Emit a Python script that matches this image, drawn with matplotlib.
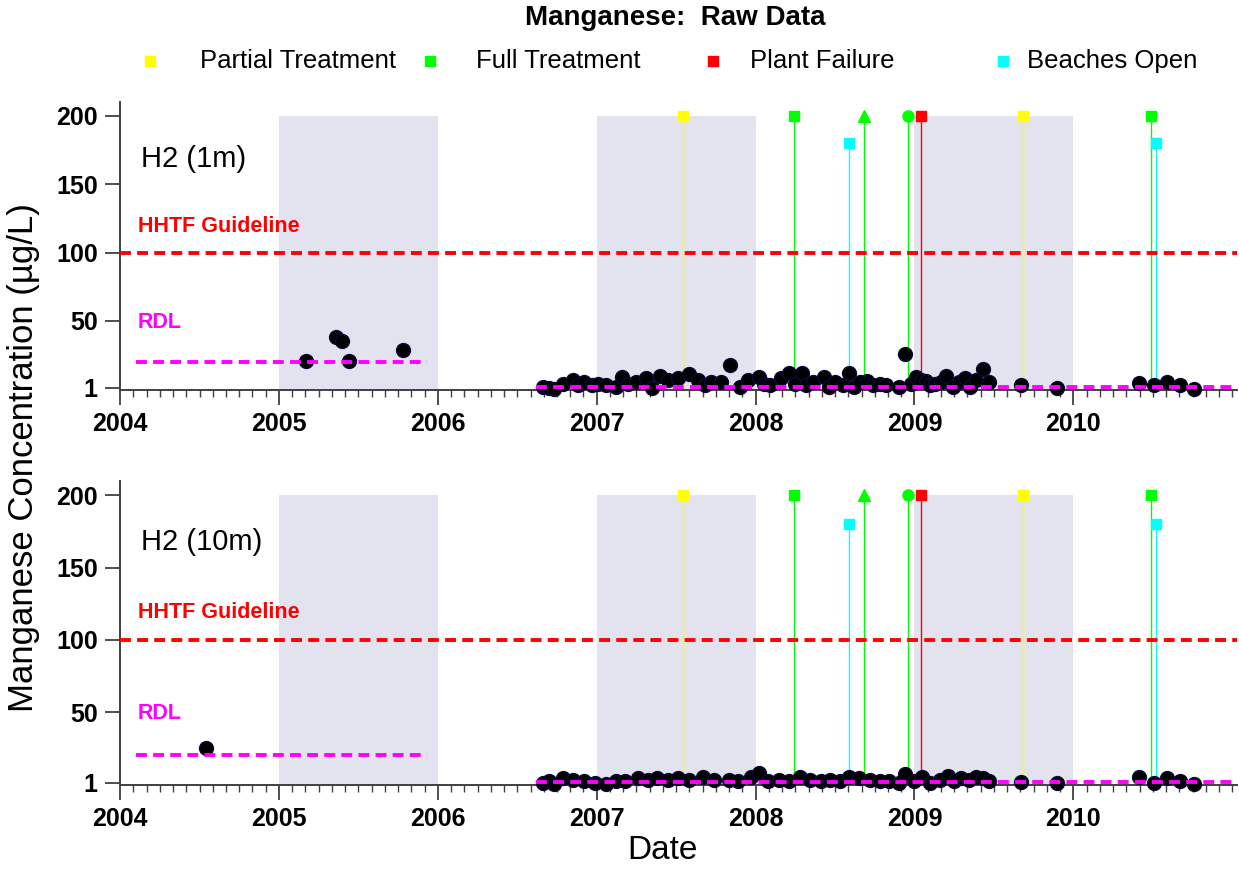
import matplotlib.pyplot as plt
from matplotlib.lines import Line2D
from matplotlib.ticker import MultipleLocator

plt.rcParams['font.family'] = ['Liberation Sans', 'DejaVu Sans']

# sample dates (decimal years) and Mn concentrations, ug/L
dates_1m = [2005.17, 2005.36, 2005.40, 2005.44, 2005.78,
            2006.66, 2006.70, 2006.73, 2006.79, 2006.85, 2006.88, 2006.92, 2006.97,
            2007.01, 2007.06, 2007.12, 2007.16, 2007.20, 2007.25, 2007.31, 2007.35,
            2007.40, 2007.45, 2007.51, 2007.58, 2007.64, 2007.68, 2007.72, 2007.78,
            2007.84, 2007.90, 2007.95, 2008.02, 2008.05, 2008.09, 2008.16, 2008.21,
            2008.25, 2008.29, 2008.32, 2008.36, 2008.43, 2008.46, 2008.50, 2008.55,
            2008.59, 2008.62, 2008.66, 2008.70, 2008.74, 2008.78, 2008.82, 2008.90,
            2008.94, 2008.98, 2009.01, 2009.04, 2009.07, 2009.10, 2009.13, 2009.17,
            2009.20, 2009.24, 2009.28, 2009.32, 2009.35, 2009.39, 2009.43, 2009.47,
            2009.67, 2009.90, 2010.41, 2010.51, 2010.59, 2010.67, 2010.76]
conc_1m = [21, 38, 35, 21, 29,
           2, 1, 0, 4, 7, 3, 5, 3,
           4, 3, 2, 9, 4, 5, 8, 1,
           10, 7, 8, 11, 7, 3, 5, 5,
           18, 2, 7, 9, 4, 3, 8, 12,
           4, 12, 3, 5, 9, 2, 5, 3,
           12, 2, 5, 6, 3, 4, 3, 2,
           26, 4, 9, 7, 6, 3, 4, 5,
           10, 2, 5, 8, 2, 7, 15, 5,
           3, 1, 4.5, 3, 5.5, 3, 0.5]

dates_10m = [2004.54,
             2006.66, 2006.70, 2006.73, 2006.79, 2006.85, 2006.92, 2006.99, 2007.06,
             2007.12, 2007.18, 2007.26, 2007.32, 2007.38, 2007.45, 2007.51, 2007.58,
             2007.67, 2007.74, 2007.83, 2007.89, 2007.97, 2008.02, 2008.08, 2008.15,
             2008.21, 2008.28, 2008.34, 2008.41, 2008.47, 2008.53, 2008.59, 2008.65,
             2008.72, 2008.78, 2008.84, 2008.90, 2008.94, 2009.00, 2009.05, 2009.10,
             2009.16, 2009.21, 2009.25, 2009.29, 2009.34, 2009.39, 2009.43, 2009.47,
             2009.67, 2009.90, 2010.41, 2010.51, 2010.59, 2010.67, 2010.76]
conc_10m = [25,
            1, 2, 0, 4.5, 3, 2, 1, 0.5,
            2, 2, 4.5, 3, 4.5, 3, 4.5, 3,
            5, 3, 3, 2, 5, 8, 2, 3,
            2, 5, 3, 2, 3, 2, 5, 4.5,
            3, 2, 2, 1, 7, 2, 5, 1,
            3, 6, 2, 4.5, 3, 5, 4.5, 2,
            1.5, 1, 5, 1, 4.5, 2, 0]

# event markers: (date, height, marker)
partial_treatment = [(2007.54, 200, 's'), (2009.68, 200, 's')]
full_treatment = [(2008.24, 200, 's'), (2008.68, 200, '^'), (2008.96, 200, 'o'), (2010.49, 200, 's')]
plant_failure = [(2009.04, 200, 's')]
beaches_open = [(2008.59, 180, 's'), (2010.52, 180, 's')]

events = [('Partial Treatment', '#ffff00', partial_treatment),
          ('Full Treatment', '#00ff00', full_treatment),
          ('Plant Failure', '#ff0000', plant_failure),
          ('Beaches Open', '#00ffff', beaches_open)]

shaded_years = [(2005, 2006), (2007, 2008), (2009, 2010)]
hhtf_guideline = 100
rdl_segments = [(2004.1, 2005.93, 20), (2006.62, 2011.03, 1.5)]

panels = [('H2 (1m)', dates_1m, conc_1m),
          ('H2 (10m)', dates_10m, conc_10m)]

fig = plt.figure(figsize=(12.39, 8.69), dpi=100)
ax1 = fig.add_axes([0.0969, 0.5512, 0.9015, 0.3314])
ax2 = fig.add_axes([0.0969, 0.0967, 0.9015, 0.3498])

y_lo, y_hi = -0.5, 210

for ax, (name, dates, conc) in zip([ax1, ax2], panels):
    ax.set_xlim(2004, 2011.03)
    ax.set_ylim(y_lo, y_hi)

    for a, b in shaded_years:
        ax.fill_between([a, b], y_lo, 200, color='#e3e3ef', lw=0, zorder=0)

    for label, color, evs in events:
        for d, h, m in evs:
            ax.vlines(d, y_lo, h, color=color, lw=1.0, zorder=1)
            ax.plot(d, h, marker=m, color=color, ms=8 if m != 's' else 7,
                    ls='none', zorder=5, clip_on=False)

    ax.plot(dates, conc, 'o', color='black', mec='#0a0a3a', mew=1.0,
            ms=10, zorder=3, clip_on=False)

    ax.axhline(hhtf_guideline, color='#ff0000', lw=2.8, dashes=(2.8, 1.6), zorder=4)
    for x0, x1, y in rdl_segments:
        ax.plot([x0, x1], [y, y], color='#ff00ff', lw=2.8, dashes=(2.8, 1.6), zorder=4)

    ax.text(2004.13, 168, name, fontsize=21, va='center', ha='left')
    ax.text(2004.11, 119, 'HHTF Guideline', fontsize=15.5, fontweight='bold',
            color='#ff0000', va='center', ha='left')
    ax.text(2004.11, 49, 'RDL', fontsize=15.5, fontweight='bold',
            color='#ff00ff', va='center', ha='left')

    ax.set_yticks([1, 50, 100, 150, 200])
    ax.set_xticks(range(2004, 2011))
    ax.xaxis.set_minor_locator(MultipleLocator(1 / 12))
    ax.tick_params(axis='both', which='major', direction='out', labelsize=18,
                   length=11, width=1.3, color='#404040')
    ax.tick_params(axis='y', pad=5)
    ax.tick_params(axis='x', pad=5)
    ax.tick_params(axis='x', which='minor', direction='out', length=5,
                   width=1.0, color='#404040')
    for lab in ax.get_xticklabels() + ax.get_yticklabels():
        lab.set_fontweight('bold')

    for side in ['top', 'right']:
        ax.spines[side].set_visible(False)
    for side in ['left', 'bottom']:
        ax.spines[side].set_color('#404040')
        ax.spines[side].set_linewidth(1.4)

fig.text(0.545, 0.979, 'Manganese:  Raw Data', fontsize=20, fontweight='bold',
         ha='center', va='center')
fig.text(0.019, 0.474, 'Manganese Concentration (\u00b5g/L)', fontsize=25,
         rotation=90, ha='center', va='center')
fig.text(0.535, 0.021, 'Date', fontsize=24, ha='center', va='center')

# legend row across the top
marker_x = [150, 430, 713, 1003]
text_x = [200, 476, 750, 1027]
legend_y = 1 - 61 / 869
for (label, color, _), mx, tx in zip(events, marker_x, text_x):
    fig.add_artist(Line2D([mx / 1239], [legend_y], marker='s', color=color,
                          ms=7, ls='none', transform=fig.transFigure))
    fig.text(tx / 1239, legend_y, label, fontsize=18.5, ha='left', va='center')

fig.savefig('out.png', dpi=100)
